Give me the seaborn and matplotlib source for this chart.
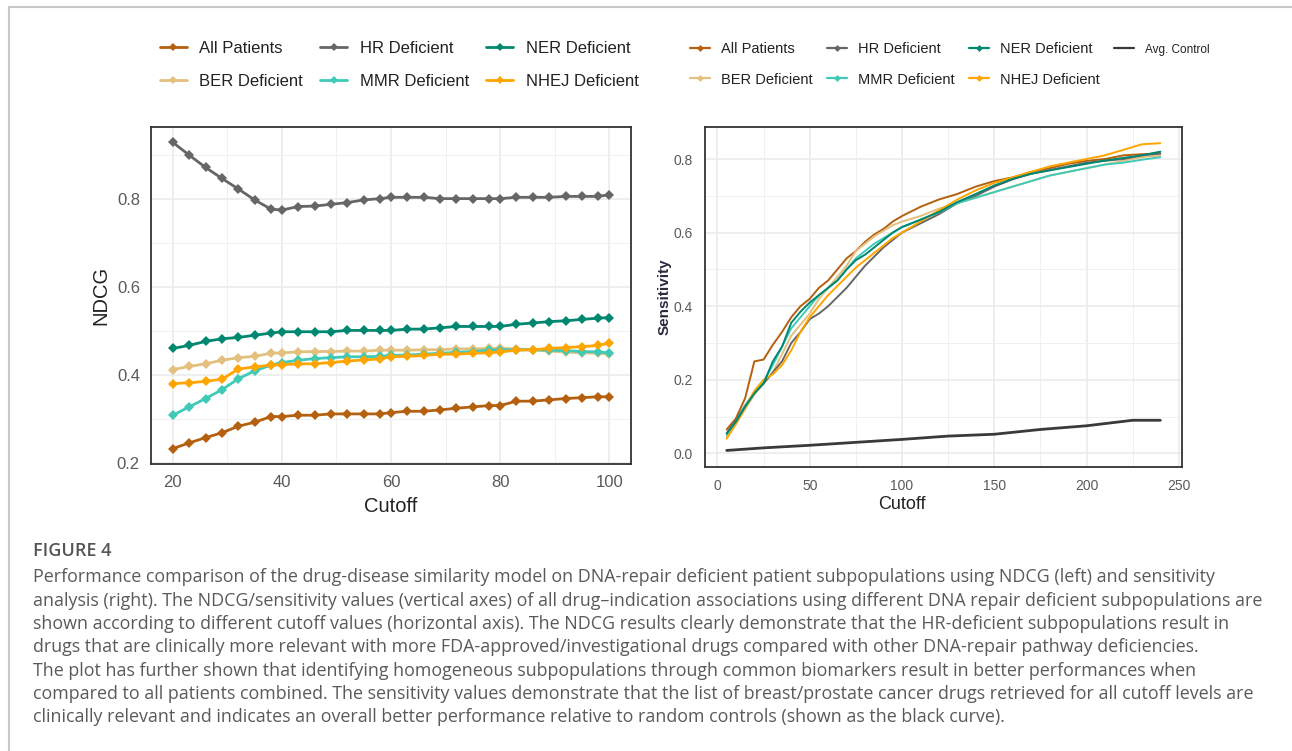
import numpy as np
import pandas as pd
import matplotlib
matplotlib.use("Agg")
import matplotlib.pyplot as plt
from matplotlib.lines import Line2D
from matplotlib.ticker import FixedLocator
from matplotlib import font_manager
import seaborn as sns

# ---------------- data ----------------
groups = ["All Patients", "BER Deficient", "HR Deficient", "MMR Deficient", "NER Deficient", "NHEJ Deficient"]
colors = ["#B5600F", "#E3C07E", "#666666", "#3FCAB8", "#00876F", "#FFA500"]

ndcg_cutoff = [20, 23, 26, 29, 32, 35, 38, 40, 43, 46, 49, 52, 55, 58, 60, 63, 66, 69, 72, 75, 78, 80,
               83, 86, 89, 92, 95, 98, 100]
ndcg_all = [0.232, 0.245, 0.257, 0.268, 0.283, 0.292, 0.305, 0.305, 0.308, 0.308, 0.311, 0.311, 0.311, 0.311,
            0.314, 0.317, 0.317, 0.320, 0.324, 0.327, 0.330, 0.330, 0.340, 0.340, 0.343, 0.346, 0.348, 0.350, 0.350]
ndcg_ber = [0.412, 0.419, 0.425, 0.433, 0.439, 0.442, 0.449, 0.450, 0.452, 0.453, 0.453, 0.454, 0.454, 0.456,
            0.456, 0.456, 0.457, 0.457, 0.459, 0.459, 0.460, 0.460, 0.459, 0.457, 0.454, 0.452, 0.450, 0.449, 0.447]
ndcg_hr = [0.929, 0.900, 0.872, 0.847, 0.823, 0.798, 0.777, 0.775, 0.783, 0.784, 0.788, 0.792, 0.798, 0.801,
           0.804, 0.804, 0.804, 0.801, 0.801, 0.801, 0.801, 0.801, 0.804, 0.804, 0.804, 0.806, 0.806, 0.806, 0.810]
ndcg_mmr = [0.308, 0.327, 0.346, 0.366, 0.391, 0.409, 0.422, 0.428, 0.433, 0.437, 0.439, 0.441, 0.441, 0.442,
            0.444, 0.445, 0.447, 0.449, 0.451, 0.453, 0.456, 0.457, 0.457, 0.457, 0.456, 0.455, 0.453, 0.452, 0.450]
ndcg_ner = [0.460, 0.467, 0.476, 0.482, 0.485, 0.490, 0.495, 0.498, 0.498, 0.498, 0.498, 0.501, 0.501, 0.501,
            0.501, 0.504, 0.504, 0.507, 0.510, 0.510, 0.510, 0.510, 0.515, 0.518, 0.521, 0.523, 0.526, 0.529, 0.530]
ndcg_nhej = [0.380, 0.382, 0.385, 0.390, 0.413, 0.418, 0.422, 0.423, 0.425, 0.425, 0.428, 0.431, 0.434, 0.436,
             0.441, 0.442, 0.444, 0.447, 0.447, 0.449, 0.450, 0.452, 0.456, 0.457, 0.460, 0.462, 0.464, 0.467, 0.472]

sens_cutoff = [5, 10, 15, 20, 25, 30, 35, 40, 45, 50, 55, 60, 65, 70, 75, 80, 85, 90, 95, 100,
               110, 120, 130, 140, 150, 160, 170, 180, 190, 200, 210, 220, 230, 240]
sens_all = [0.065, 0.095, 0.15, 0.25, 0.255, 0.295, 0.33, 0.37, 0.40, 0.42, 0.45, 0.47, 0.50, 0.53, 0.55, 0.575,
            0.595, 0.61, 0.63, 0.645, 0.67, 0.69, 0.705, 0.725, 0.74, 0.75, 0.765, 0.775, 0.787, 0.795, 0.80,
            0.81, 0.813, 0.815]
sens_ber = [0.045, 0.08, 0.12, 0.16, 0.19, 0.22, 0.27, 0.32, 0.35, 0.38, 0.42, 0.45, 0.48, 0.51, 0.55, 0.57,
            0.59, 0.605, 0.62, 0.63, 0.645, 0.665, 0.68, 0.695, 0.71, 0.725, 0.74, 0.755, 0.765, 0.775, 0.785,
            0.795, 0.805, 0.81]
sens_hr = [0.055, 0.09, 0.13, 0.165, 0.19, 0.22, 0.25, 0.30, 0.33, 0.365, 0.38, 0.40, 0.425, 0.45, 0.48, 0.51,
           0.535, 0.56, 0.58, 0.60, 0.625, 0.65, 0.68, 0.70, 0.725, 0.745, 0.76, 0.77, 0.78, 0.79, 0.795, 0.80,
           0.81, 0.815]
sens_mmr = [0.05, 0.085, 0.13, 0.165, 0.195, 0.24, 0.29, 0.34, 0.37, 0.40, 0.43, 0.45, 0.47, 0.50, 0.53, 0.55,
            0.57, 0.585, 0.60, 0.615, 0.635, 0.655, 0.68, 0.695, 0.71, 0.725, 0.74, 0.755, 0.765, 0.775, 0.785,
            0.79, 0.798, 0.805]
sens_ner = [0.054, 0.086, 0.127, 0.163, 0.19, 0.25, 0.29, 0.355, 0.385, 0.41, 0.43, 0.45, 0.47, 0.50, 0.525,
            0.54, 0.56, 0.58, 0.60, 0.615, 0.635, 0.656, 0.683, 0.705, 0.728, 0.746, 0.76, 0.769, 0.778, 0.787,
            0.796, 0.803, 0.81, 0.82]
sens_nhej = [0.04, 0.08, 0.125, 0.17, 0.20, 0.215, 0.24, 0.28, 0.33, 0.37, 0.40, 0.43, 0.455, 0.48, 0.505,
             0.525, 0.545, 0.565, 0.585, 0.60, 0.63, 0.66, 0.69, 0.715, 0.735, 0.75, 0.765, 0.78, 0.79, 0.80,
             0.81, 0.825, 0.84, 0.843]

ctrl_cutoff = [5, 25, 50, 75, 100, 125, 150, 175, 200, 225, 240]
ctrl_sens = [0.008, 0.015, 0.022, 0.030, 0.038, 0.047, 0.052, 0.065, 0.075, 0.090, 0.090]

ndcg_xticks = [20, 40, 60, 80, 100]
ndcg_yticks = [0.2, 0.4, 0.6, 0.8]
sens_xticks = [0, 50, 100, 150, 200, 250]
sens_yticks = [0.0, 0.2, 0.4, 0.6, 0.8]

caption_title = "FIGURE 4"
caption_lines = [
    "Performance comparison of the drug-disease similarity model on DNA-repair deficient patient subpopulations using NDCG (left) and sensitivity",
    "analysis (right). The NDCG/sensitivity values (vertical axes) of all drug\u2013indication associations using different DNA repair deficient subpopulations are",
    "shown according to different cutoff values (horizontal axis). The NDCG results clearly demonstrate that the HR-deficient subpopulations result in",
    "drugs that are clinically more relevant with more FDA-approved/investigational drugs compared with other DNA-repair pathway deficiencies.",
    "The plot has further shown that identifying homogeneous subpopulations through common biomarkers result in better performances when",
    "compared to all patients combined. The sensitivity values demonstrate that the list of breast/prostate cancer drugs retrieved for all cutoff levels are",
    "clinically relevant and indicates an overall better performance relative to random controls (shown as the black curve).",
]

# ---------------- frames ----------------
ndcg_series = [ndcg_all, ndcg_ber, ndcg_hr, ndcg_mmr, ndcg_ner, ndcg_nhej]
sens_series = [sens_all, sens_ber, sens_hr, sens_mmr, sens_ner, sens_nhej]
df_ndcg = pd.concat([pd.DataFrame({"Cutoff": ndcg_cutoff, "NDCG": v, "Group": g})
                     for g, v in zip(groups, ndcg_series)], ignore_index=True)
df_sens = pd.concat([pd.DataFrame({"Cutoff": sens_cutoff, "Sensitivity": v, "Group": g})
                     for g, v in zip(groups, sens_series)], ignore_index=True)
df_ctrl = pd.DataFrame({"Cutoff": ctrl_cutoff, "Sensitivity": ctrl_sens})
palette = dict(zip(groups, colors))

# ---------------- style ----------------
sns.set_style("white")
available = {f.name for f in font_manager.fontManager.ttflist}
base_font = "Liberation Sans" if "Liberation Sans" in available else "DejaVu Sans"
narrow_font = "Liberation Sans Narrow" if "Liberation Sans Narrow" in available else base_font
is_narrow = narrow_font != base_font
cap_font = "Open Sans" if "Open Sans" in available else base_font
plt.rcParams["font.family"] = [base_font, "DejaVu Sans"]

W, H = 1292, 751
fig = plt.figure(figsize=(W / 100, H / 100), dpi=100)
fig.patch.set_facecolor("white")


def px_axes(l, r, t, b):
    return fig.add_axes([l / W, 1 - b / H, (r - l) / W, (b - t) / H])


def style_axes(ax, tick_size, tick_font, pad):
    for s in ax.spines.values():
        s.set_color("#333333")
        s.set_linewidth(1.3)
    ax.grid(True, which="major", color="#EBEBEB", lw=1.2)
    ax.grid(True, which="minor", color="#F0F0F0", lw=0.7)
    ax.set_axisbelow(True)
    ax.tick_params(which="major", length=3.5, width=1.0, color="#333333",
                   labelcolor="#5a5a5a", labelsize=tick_size, pad=pad)
    ax.tick_params(which="minor", length=0)
    for lab in ax.get_xticklabels() + ax.get_yticklabels():
        lab.set_family(tick_font)


# ---------------- left panel: NDCG ----------------
axL = px_axes(151, 631, 127, 464)
sns.lineplot(data=df_ndcg, x="Cutoff", y="NDCG", hue="Group", hue_order=groups, palette=palette,
             marker="D", markersize=5.5, markeredgewidth=0, linewidth=2.0, legend=False, ax=axL)
axL.set_xlim(16, 104)
axL.set_ylim(0.197, 0.964)
axL.set_xticks(ndcg_xticks)
axL.set_xticklabels([str(v) for v in ndcg_xticks])
axL.set_yticks(ndcg_yticks)
axL.set_yticklabels([f"{v:.1f}" for v in ndcg_yticks])
axL.xaxis.set_minor_locator(FixedLocator([30, 50, 70, 90]))
axL.yaxis.set_minor_locator(FixedLocator([0.3, 0.5, 0.7, 0.9]))
style_axes(axL, 12, base_font, 4.5)
axL.set_xlabel("Cutoff", fontsize=14.5, color="#222222", family=base_font)
axL.set_ylabel("NDCG", fontsize=14.5, color="#222222", family=base_font)
axL.xaxis.set_label_coords(0.5, -0.098)
axL.yaxis.set_label_coords(-0.085, 0.5)

# ---------------- right panel: Sensitivity ----------------
axR = px_axes(705, 1182, 127, 467)
draw_order = ["All Patients", "BER Deficient", "HR Deficient", "MMR Deficient", "NHEJ Deficient", "NER Deficient"]
sns.lineplot(data=df_sens, x="Cutoff", y="Sensitivity", hue="Group", hue_order=draw_order, palette=palette,
             linewidth=1.4, legend=False, ax=axR)
sns.lineplot(data=df_ctrl, x="Cutoff", y="Sensitivity", color="#3a3a3a", linewidth=2.0, ax=axR)
axR.set_xlim(-6.75, 251.75)
axR.set_ylim(-0.037, 0.887)
axR.set_xticks(sens_xticks)
axR.set_xticklabels([str(v) for v in sens_xticks])
axR.set_yticks(sens_yticks)
axR.set_yticklabels([f"{v:.1f}" for v in sens_yticks])
axR.xaxis.set_minor_locator(FixedLocator([25, 75, 125, 175, 225]))
axR.yaxis.set_minor_locator(FixedLocator([0.1, 0.3, 0.5, 0.7]))
style_axes(axR, 11.5 if is_narrow else 10, narrow_font, 5.5)
axR.set_xlabel("Cutoff", fontsize=13, color="#222222", family=base_font)
axR.set_ylabel("Sensitivity", fontsize=11, color="#2a2a40", family=base_font, fontweight="bold")
axR.xaxis.set_label_coords(0.413, -0.085)
axR.yaxis.set_label_coords(-0.069, 0.5)

# ---------------- legends ----------------
hL = [Line2D([], [], color=c, lw=2.0, marker="D", markersize=4.5, markeredgewidth=0) for c in colors]
legL = fig.legend(hL, groups, ncol=3, loc="center left", bbox_to_anchor=(160 / W, 1 - 65 / H),
                  frameon=False, prop={"family": base_font, "size": 12}, handlelength=1.6,
                  handletextpad=0.75, columnspacing=1.05, labelspacing=1.1, borderpad=0, borderaxespad=0)
for t in legL.get_texts():
    t.set_color("#222222")

hR = [Line2D([], [], color=c, lw=1.6, marker="D", markersize=3.5, markeredgewidth=0) for c in colors]
hR.append(Line2D([], [], color="#3a3a3a", lw=1.6))
labR = groups + ["Avg. Control"]
legR = fig.legend(hR, labR, ncol=4, loc="center left", bbox_to_anchor=(690 / W, 1 - 64.5 / H),
                  frameon=False, prop={"family": narrow_font, "size": 12 if is_narrow else 10.5},
                  handlelength=1.4, handletextpad=0.75, columnspacing=0.95, labelspacing=1.1,
                  borderpad=0, borderaxespad=0)
for t in legR.get_texts():
    t.set_color("#222222")
legR.get_texts()[-1].set_fontsize(9.5 if is_narrow else 8.5)

# ---------------- frame lines ----------------
fig.add_artist(Line2D([9 / W, 1.0], [1 - 7 / H, 1 - 7 / H], transform=fig.transFigure,
                      color="#c8c8c8", lw=1.5))
fig.add_artist(Line2D([9 / W, 9 / W], [0.0, 1 - 7 / H], transform=fig.transFigure,
                      color="#c8c8c8", lw=1.5))

# ---------------- caption ----------------
fig.text(33 / W, 1 - 551 / H, caption_title, family=cap_font, fontsize=13, fontweight="semibold",
         color="#555555", va="center", ha="left")
line_y = [577, 601, 624, 647, 671, 694, 717]
for y, line in zip(line_y, caption_lines):
    fig.text(33 / W, 1 - y / H, line, family=cap_font, fontsize=12.9, color="#5a5a5a",
             va="center", ha="left")

fig.savefig("out.png", dpi=100, facecolor="white")
